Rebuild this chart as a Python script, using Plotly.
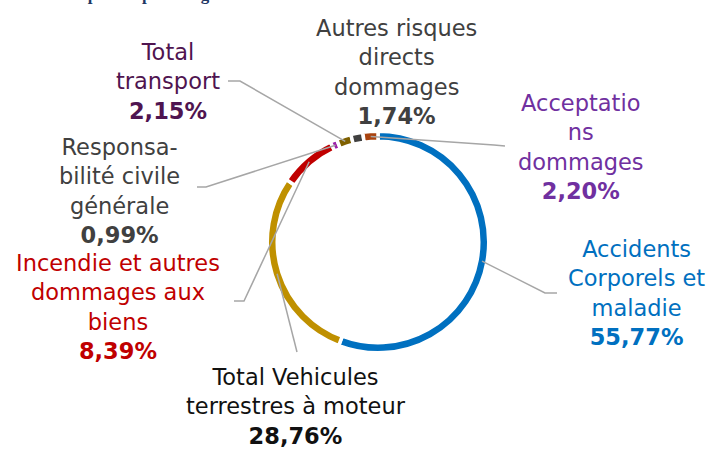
import math
import plotly.graph_objects as go

W, H = 711, 449

# ---- data ----
categories = [
    "Accidents Corporels et maladie",
    "Total Vehicules terrestres à moteur",
    "Incendie et autres dommages aux biens",
    "Responsabilité civile générale",
    "Total transport",
    "Autres risques directs dommages",
    "Acceptations dommages",
]
shares = [55.77, 28.76, 8.39, 0.99, 2.15, 1.74, 2.20]
share_labels = ["55,77%", "28,76%", "8,39%", "0,99%", "2,15%", "1,74%", "2,20%"]
label_lines = [
    ["Accidents", "Corporels et", "maladie"],
    ["Total Vehicules", "terrestres à moteur"],
    ["Incendie et autres", "dommages aux", "biens"],
    ["Responsa-", "bilité civile", "générale"],
    ["Total", "transport"],
    ["Autres risques", "directs", "dommages"],
    ["Acceptatio", "ns", "dommages"],
]

# ---- styling ----
slice_colors = ["#0070C0", "#BF9000", "#C00000", "#9B1FA8", "#7F6000", "#404040", "#A9430F"]
label_colors = ["#0070C0", "#111111", "#C00000", "#404040", "#4F1450", "#404040", "#7030A0"]
label_pos = [(636, 293), (296, 406), (118, 307), (119, 191), (168, 81), (396, 72), (581, 147)]
# leader line anchors near labels (None = no line)
leader_pts = [
    [(557, 293), (545, 293)],
    [(297, 352)],
    [(234, 301), (244, 301)],
    [(197, 187), (206, 187)],
    [(228, 81), (240, 81)],
    None,
    [(505, 146), (494, 145)],
]
CX, CY = 378, 242
BORDER = 3.5
R_OUT = 109 + BORDER / 2
HOLE = 1 - 10 / R_OUT
R_MID = R_OUT * (1 + HOLE) / 2

def px(x):
    return x / W

def py(y):
    return 1 - y / H

fig = go.Figure()
fig.add_trace(go.Pie(
    labels=categories,
    values=shares,
    sort=False,
    direction="clockwise",
    rotation=0,
    hole=HOLE,
    marker=dict(colors=slice_colors, line=dict(color="white", width=BORDER)),
    textinfo="none",
    hoverinfo="skip",
    showlegend=False,
    domain=dict(x=[px(CX - R_OUT), px(CX + R_OUT)],
                y=[py(CY + R_OUT), py(CY - R_OUT)]),
))

total = sum(shares)
cum = 0.0
shapes = []
annotations = []
for i, v in enumerate(shares):
    mid = (cum + v / 2) / total * 2 * math.pi
    cum += v
    rx = CX + R_MID * math.sin(mid)
    ry = CY - R_MID * math.cos(mid)
    if leader_pts[i] is not None:
        pts = leader_pts[i] + [(rx, ry)]
        path = "M " + " L ".join(f"{px(a):.5f},{py(b):.5f}" for a, b in pts)
        shapes.append(dict(type="path", path=path, xref="paper", yref="paper",
                           line=dict(color="#A6A6A6", width=1.5)))
    text = "<br>".join(label_lines[i]) + f"<br><b>{share_labels[i]}</b>"
    lx, ly = label_pos[i]
    annotations.append(dict(
        x=px(lx), y=py(ly), xref="paper", yref="paper",
        text=text, showarrow=False, align="center",
        xanchor="center", yanchor="middle",
        font=dict(family="DejaVu Sans", size=22.5, color=label_colors[i]),
    ))

# cut-off title at the very top
annotations.append(dict(
    x=px(240), y=py(-6), xref="paper", yref="paper",
    text="<b>Structure des primes par catégorie</b>", showarrow=False,
    xanchor="right", yanchor="middle",
    font=dict(family="Liberation Serif", size=17, color="#1F3864"),
))

fig.update_layout(
    width=W, height=H,
    margin=dict(l=0, r=0, t=0, b=0),
    paper_bgcolor="white", plot_bgcolor="white",
    shapes=shapes, annotations=annotations,
)

fig.write_html("out.html", config={"displayModeBar": False},
               post_script="document.body.style.margin='0';")
